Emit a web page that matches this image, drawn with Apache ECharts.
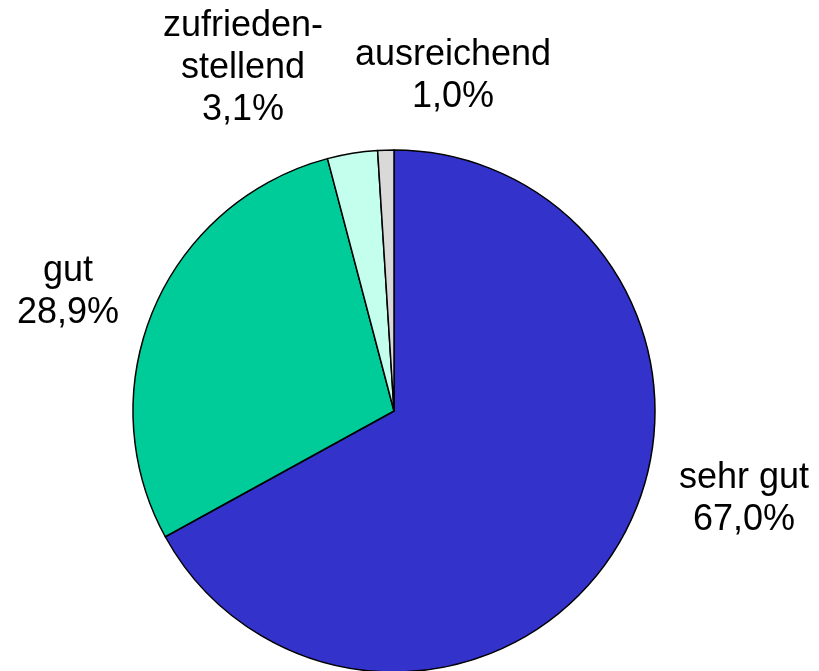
<!DOCTYPE html>
<html>
<head>
<meta charset="utf-8">
<script src="https://cdn.jsdelivr.net/npm/echarts@6/dist/echarts.min.js"></script>
<style>
  html, body { margin: 0; padding: 0; background: #fff; }
  #chart { width: 819px; height: 671px; }
</style>
</head>
<body>
<div id="chart"></div>
<script>
// grades and their share in percent
var categories = ['sehr gut', 'gut', 'zufrieden-\nstellend', 'ausreichend'];
var shares = [67.0, 28.9, 3.1, 1.0];
var colors = ['#3333CC', '#00CC99', '#C4FFEE', '#D9D9D9'];

// where each label sits (centre of the text block)
var labelSpots = [[744, 499], [68, 292], [243, 68], [453, 76]];

var chart = echarts.init(document.getElementById('chart'));

var pieData = categories.map(function (name, i) {
  return { name: name, value: shares[i], itemStyle: { color: colors[i] } };
});

chart.setOption({
  animation: false,
  series: [{
    type: 'pie',
    center: [394, 411],
    radius: 261,
    startAngle: 90,
    clockwise: true,
    data: pieData,
    itemStyle: {
      borderColor: '#000',
      borderWidth: 1.5
    },
    label: {
      show: true,
      position: 'outside',
      color: '#000',
      fontFamily: 'Liberation Sans, Arial, sans-serif',
      fontSize: 36,
      lineHeight: 42,
      align: 'center',
      overflow: 'none',
      formatter: function (p) {
        return p.name + '\n' + p.value.toFixed(1).replace('.', ',') + '%';
      }
    },
    labelLine: { show: false },
    labelLayout: function (p) {
      var s = labelSpots[p.dataIndex];
      return { x: s[0], y: s[1], align: 'center', verticalAlign: 'middle' };
    },
    emphasis: { disabled: true }
  }]
});
</script>
</body>
</html>
